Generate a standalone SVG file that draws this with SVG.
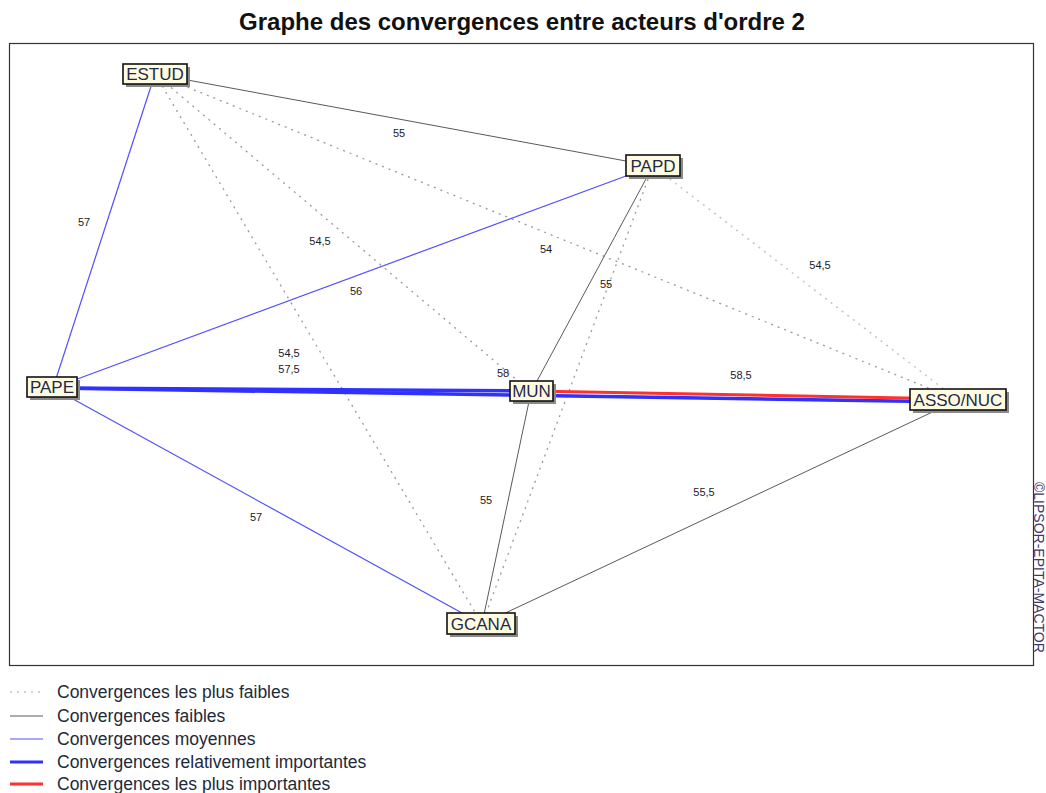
<svg xmlns="http://www.w3.org/2000/svg" width="1046" height="793" viewBox="0 0 1046 793">
  <style>
    .title { font-family: "Liberation Sans", Arial, sans-serif; font-size: 24px; font-weight: bold; fill: #111; }
    .frame { fill: #ffffff; stroke: #333; stroke-width: 1.2; }
    .weakest { stroke: #9a9a9a; stroke-width: 1.3; stroke-dasharray: 2 5; fill: none; }
    .weakest-light { stroke: #c4c4c4; stroke-width: 1.5; stroke-dasharray: 2 5; fill: none; }
    .weak { stroke: #5a5a5a; stroke-width: 1; fill: none; }
    .medium { stroke: #5050ff; stroke-width: 1.2; fill: none; }
    .strong { stroke: #3030ff; stroke-width: 3.5; fill: none; }
    .strongest { stroke: #ff3030; stroke-width: 3; fill: none; }
    .elabel { font-family: "Liberation Sans", Arial, sans-serif; font-size: 11px; fill: #1a1a2a; text-anchor: middle; }
    .nbox { fill: #fffbe0; stroke: #111; stroke-width: 1.6; }
    .nshadow { fill: #8a8a8a; }
    .ntext { font-family: "Liberation Sans", Arial, sans-serif; font-size: 17px; fill: #1e2a4a; text-anchor: middle; }
    .legend { font-family: "Liberation Sans", Arial, sans-serif; font-size: 17.5px; fill: #1e2a3a; }
    .copy { font-family: "Liberation Sans", Arial, sans-serif; font-size: 14px; fill: #3a3a6a; }
  </style>

  <rect width="1046" height="793" fill="#ffffff"/>
  <text class="title" x="522" y="30" text-anchor="middle">Graphe des convergences entre acteurs d'ordre 2</text>
  <rect class="frame" x="9.5" y="43.5" width="1024" height="622"/>

  <g id="connectors">
    <!-- weakest convergences (dotted) -->
    <line class="weakest" x1="155" y1="74" x2="531" y2="392"/>
    <line class="weakest" x1="155" y1="74" x2="482" y2="624"/>
    <line class="weakest" x1="155" y1="74" x2="958" y2="400"/>
    <line class="weakest-light" x1="653" y1="166" x2="958" y2="400"/>
    <line class="weakest" x1="653" y1="166" x2="482" y2="624"/>
    <!-- weak convergences -->
    <line class="weak" x1="155" y1="74" x2="653" y2="166"/>
    <line class="weak" x1="653" y1="166" x2="531" y2="392"/>
    <line class="weak" x1="531" y1="392" x2="482" y2="624"/>
    <line class="weak" x1="482" y1="624" x2="958" y2="400"/>
    <!-- medium convergences -->
    <line class="medium" x1="155" y1="74" x2="53" y2="388"/>
    <line class="medium" x1="653" y1="166" x2="53" y2="388"/>
    <line class="medium" x1="53" y1="388" x2="482" y2="624"/>
    <!-- relatively strong convergences -->
    <line class="strong" x1="53" y1="388" x2="531" y2="391"/>
    <line class="strong" x1="53" y1="388" x2="958" y2="402"/>
    <!-- strongest convergence -->
    <line class="strongest" x1="531" y1="391" x2="958" y2="399"/>

    <!-- edge values -->
    <text class="elabel" x="399" y="137">55</text>
    <text class="elabel" x="84" y="226">57</text>
    <text class="elabel" x="320" y="245">54,5</text>
    <text class="elabel" x="546" y="253">54</text>
    <text class="elabel" x="356" y="295">56</text>
    <text class="elabel" x="606" y="288">55</text>
    <text class="elabel" x="820" y="269">54,5</text>
    <text class="elabel" x="289" y="357">54,5</text>
    <text class="elabel" x="289" y="373">57,5</text>
    <text class="elabel" x="503" y="377">58</text>
    <text class="elabel" x="741" y="379">58,5</text>
    <text class="elabel" x="486" y="504">55</text>
    <text class="elabel" x="704" y="496">55,5</text>
    <text class="elabel" x="256" y="521">57</text>
  </g>

  <g id="node-estud">
    <rect class="nshadow" x="126" y="67" width="64" height="20"/>
    <rect class="nbox" x="123" y="64" width="64" height="20"/>
    <text class="ntext" x="155" y="80">ESTUD</text>
  </g>
  <g id="node-papd">
    <rect class="nshadow" x="629" y="158" width="54" height="21"/>
    <rect class="nbox" x="626" y="155" width="54" height="21"/>
    <text class="ntext" x="653" y="172">PAPD</text>
  </g>
  <g id="node-pape">
    <rect class="nshadow" x="30" y="380" width="50" height="20"/>
    <rect class="nbox" x="27" y="377" width="50" height="20"/>
    <text class="ntext" x="52" y="393">PAPE</text>
  </g>
  <g id="node-mun">
    <rect class="nshadow" x="513" y="384" width="43" height="20"/>
    <rect class="nbox" x="510" y="381" width="43" height="20"/>
    <text class="ntext" x="531.5" y="397">MUN</text>
  </g>
  <g id="node-asso-nuc">
    <rect class="nshadow" x="913" y="392" width="96" height="21"/>
    <rect class="nbox" x="910" y="389" width="96" height="21"/>
    <text class="ntext" x="958" y="406">ASSO/NUC</text>
  </g>
  <g id="node-gcana">
    <rect class="nshadow" x="450" y="616" width="68" height="21"/>
    <rect class="nbox" x="447" y="613" width="68" height="21"/>
    <text class="ntext" x="481" y="630">GCANA</text>
  </g>

  <text class="copy" transform="translate(1034,482) rotate(90)">©LIPSOR-EPITA-MACTOR</text>

  <g id="legend">
    <line class="weakest-light" x1="10" y1="692" x2="43" y2="692"/>
    <text class="legend" x="57" y="698">Convergences les plus faibles</text>
    <line class="weak" x1="10" y1="716" x2="43" y2="716"/>
    <text class="legend" x="57" y="722">Convergences faibles</text>
    <line class="medium" x1="10" y1="739" x2="43" y2="739"/>
    <text class="legend" x="57" y="745">Convergences moyennes</text>
    <line class="strong" x1="10" y1="762" x2="43" y2="762" style="stroke-width:3"/>
    <text class="legend" x="57" y="768">Convergences relativement importantes</text>
    <line class="strongest" x1="10" y1="784" x2="43" y2="784"/>
    <text class="legend" x="57" y="790">Convergences les plus importantes</text>
  </g>
</svg>
